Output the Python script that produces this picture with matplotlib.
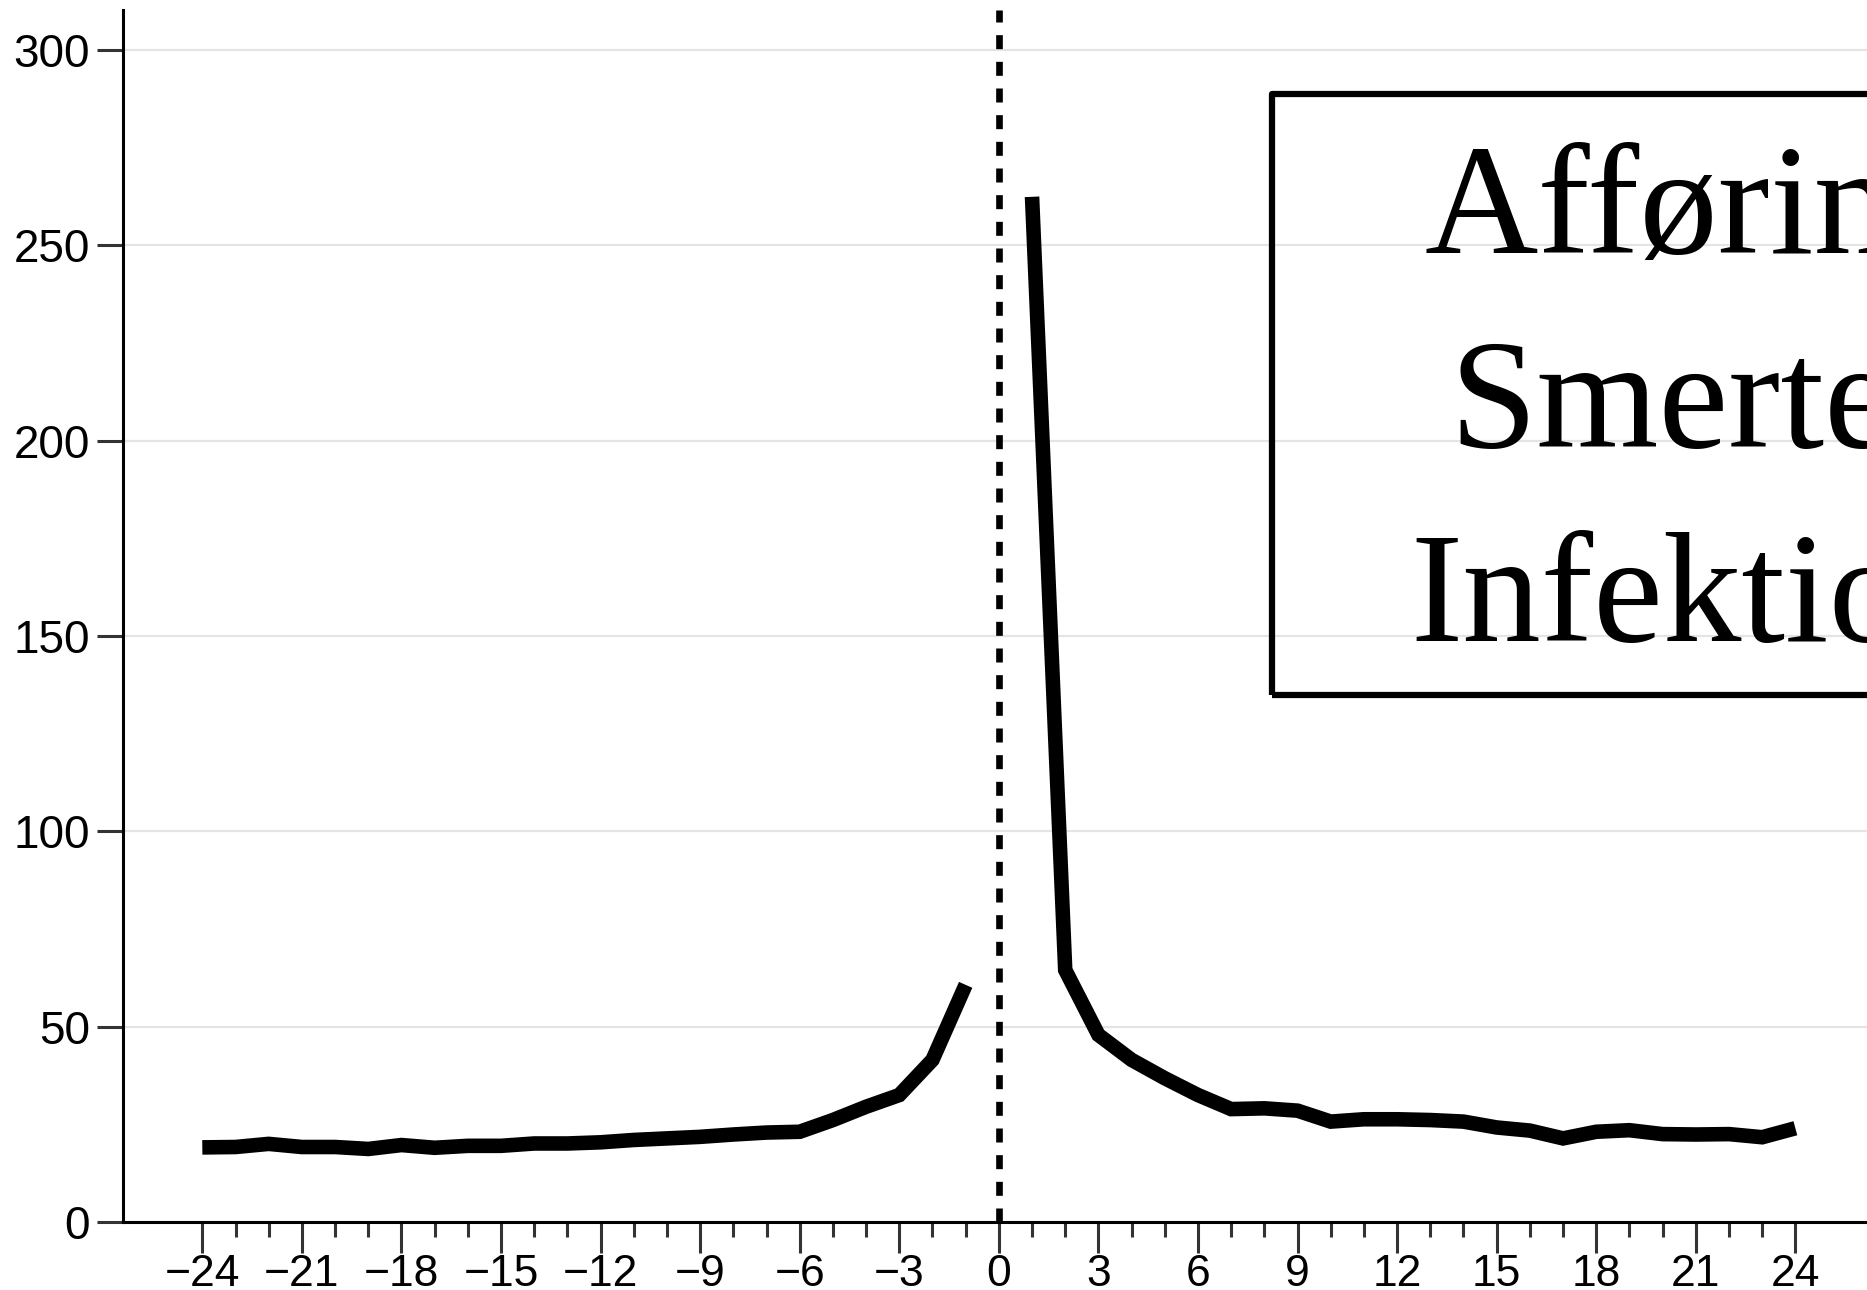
import matplotlib
matplotlib.use("Agg")
import matplotlib.pyplot as plt
from matplotlib.patches import Rectangle
import numpy as np

# Data; 0 is left empty on purpose
months = list(range(-24, 25))
values = [19.1, 19.2, 20.0, 19.2, 19.2, 18.7, 19.7, 19.0, 19.5, 19.5,
          20.1, 20.1, 20.4, 21.0, 21.4, 21.8, 22.4, 22.9, 23.1, 26.1,
          29.5, 32.5, 41.5, 60.7,
          np.nan,
          262.4, 64.5, 47.9, 41.5, 36.8, 32.5, 28.9, 29.1, 28.5, 25.7,
          26.3, 26.3, 26.1, 25.7, 24.2, 23.4, 21.4, 23.1, 23.5, 22.5,
          22.4, 22.5, 21.7, 24.0]
y_ticks = [0, 50, 100, 150, 200, 250, 300]
x_ticks = list(range(-24, 25, 3))
box_lines = ["Afføring", "Smerter", "Infektion"]

W, H = 1867, 1290
fig = plt.figure(figsize=(W / 100, H / 100), dpi=100)
ax = fig.add_axes([0.0657, 0.0527, 0.9386, 0.9395])

ax.plot(months, values, color="black", lw=10.5,
        solid_capstyle="butt", solid_joinstyle="miter", zorder=3)
ax.axvline(0, color="black", lw=4.8, dashes=(2.1, 1.9), zorder=2)

ax.set_xlim(-26.4, 26.4)
ax.set_ylim(0, 310.2)
ax.set_yticks(y_ticks)
ax.set_xticks(x_ticks)
ax.set_xticks([m for m in months if m % 3 != 0], minor=True)

ax.yaxis.grid(True, color="#e4e4e4", lw=1.6, zorder=0)
ax.set_axisbelow(True)

for side in ["top", "right"]:
    ax.spines[side].set_visible(False)
for side in ["left", "bottom"]:
    ax.spines[side].set_linewidth(2.2)
    ax.spines[side].set_color("black")

ax.tick_params(axis="y", which="major", length=18.7, width=2.2,
               color="#333333", pad=5, labelsize=33)
ax.tick_params(axis="x", which="major", length=22.3, width=2.2,
               color="#333333", pad=0.5, labelsize=32)
ax.tick_params(axis="x", which="minor", length=11, width=2.2,
               color="#333333")
for lab in ax.get_xticklabels() + ax.get_yticklabels():
    lab.set_fontfamily("Liberation Sans")

# Text box, cropped at the right edge like the reference
box = Rectangle((1272 / W, 1 - 695 / H), 0.6, (695 - 94) / H,
                transform=fig.transFigure, fill=False, lw=4.5,
                edgecolor="black", joinstyle="round", clip_on=False, zorder=5)
fig.patches.append(box)
baselines = [253, 447, 641]
for txt, yb in zip(box_lines, baselines):
    fig.text(1698 / W, 1 - yb / H, txt, ha="center", va="baseline",
             fontsize=113, family="Liberation Serif", color="black")

fig.savefig("out.png", dpi=100)
plt.close(fig)
